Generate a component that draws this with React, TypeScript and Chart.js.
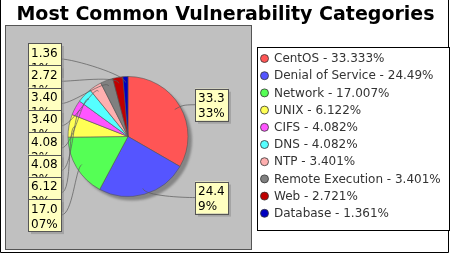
import React, { useEffect, useRef } from "react";
import { Chart, registerables } from "chart.js";

Chart.register(...registerables);

const titleText = "Most Common Vulnerability Categories";
const categories = [
  "CentOS",
  "Denial of Service",
  "Network",
  "UNIX",
  "CIFS",
  "DNS",
  "NTP",
  "Remote Execution",
  "Web",
  "Database",
];
const sharePercent = [33.333, 24.49, 17.007, 6.122, 4.082, 4.082, 3.401, 3.401, 2.721, 1.361];
const sliceColors = [
  "#FF5555",
  "#5555FF",
  "#55FF55",
  "#FFFF55",
  "#FF55FF",
  "#55FFFF",
  "#FFAFAF",
  "#808080",
  "#C00000",
  "#0000C0",
];

const FONT = '"DejaVu Sans", "Liberation Sans", sans-serif';

const decor = {
  id: "decor",
  beforeDraw(chart: any) {
    const ctx = chart.ctx;
    ctx.save();
    ctx.fillStyle = "#ffffff";
    ctx.fillRect(0, 0, chart.width, chart.height);
    // plot background
    ctx.fillStyle = "#c0c0c0";
    ctx.fillRect(5.5, 25.5, 246, 224);
    ctx.strokeStyle = "#555555";
    ctx.lineWidth = 1;
    ctx.strokeRect(5.5, 25.5, 246, 224);
    // outer frame lines
    ctx.strokeStyle = "#000000";
    ctx.beginPath();
    ctx.moveTo(0.5, 0);
    ctx.lineTo(0.5, 252.5);
    ctx.lineTo(448.5, 252.5);
    ctx.lineTo(448.5, 0);
    ctx.stroke();
    ctx.restore();
  },
  beforeDatasetsDraw(chart: any) {
    const ctx = chart.ctx;
    const a = chart.getDatasetMeta(0).data[0];
    if (!a) return;
    ctx.save();
    ctx.fillStyle = "#858585";
    ctx.filter = "blur(1px)";
    ctx.beginPath();
    ctx.arc(a.x + 4, a.y + 4, a.outerRadius, 0, Math.PI * 2);
    ctx.fill();
    ctx.restore();
  },
  afterDatasetsDraw(chart: any) {
    const ctx = chart.ctx;
    const meta = chart.getDatasetMeta(0);
    const values: number[] = chart.data.datasets[0].data;
    const n = values.length;
    const boxW = 33;
    const boxH = 32;
    type L = { left: number; top: number; tx: number; ty: number; ax: number; ay: number; dx: number; dy: number; text: string; right: boolean };
    const labels: L[] = [];
    for (let i = 0; i < n; i++) {
      const arc = meta.data[i];
      const mid = (arc.startAngle + arc.endAngle) / 2;
      const R = arc.outerRadius;
      const dx = Math.cos(mid);
      const dy = Math.sin(mid);
      const ax = arc.x + dx * R * 0.9;
      const ay = arc.y + dy * R * 0.9;
      const text = values[i] + "%";
      if (dx > 0) {
        const cy = arc.y + dy * (R + 3.5);
        const left = 195;
        labels.push({ left, top: cy - boxH / 2, tx: left, ty: cy, ax, ay, dx, dy, text, right: true });
      } else {
        const k = n - 1 - i;
        const top = 43 + k * 22.3;
        const right = 61;
        labels.push({ left: right - boxW, top, tx: right, ty: top + boxH / 2, ax, ay, dx, dy, text, right: false });
      }
    }
    ctx.save();
    // links
    ctx.strokeStyle = "#5a5a5a";
    ctx.lineWidth = 0.7;
    for (const l of labels) {
      ctx.beginPath();
      ctx.moveTo(l.ax, l.ay);
      const p1x = l.ax + l.dx * 8;
      const p1y = l.ay + l.dy * 8;
      const p2x = l.right ? l.tx - 12 : l.tx + 12;
      ctx.bezierCurveTo(p1x, p1y, p2x, l.ty, l.tx, l.ty);
      ctx.stroke();
    }
    // boxes: left ones top to bottom
    const ordered = labels
      .slice()
      .sort((p, q) => (p.right === q.right ? p.top - q.top : p.right ? 1 : -1));
    ctx.font = "12px " + FONT;
    ctx.textBaseline = "alphabetic";
    ctx.textAlign = "left";
    for (const l of ordered) {
      ctx.fillStyle = "rgba(140,140,140,0.55)";
      ctx.fillRect(l.left + 3, l.top + 3, boxW, boxH);
      ctx.fillStyle = "#FFFFC0";
      ctx.fillRect(l.left, l.top, boxW, boxH);
      ctx.strokeStyle = "#555555";
      ctx.lineWidth = 1;
      ctx.strokeRect(Math.round(l.left) + 0.5, Math.round(l.top) + 0.5, boxW, boxH);
      ctx.fillStyle = "#000000";
      const line1 = l.text.slice(0, 4);
      const line2 = l.text.slice(4);
      ctx.fillText(line1, l.left + 3, l.top + 13.5);
      ctx.fillText(line2, l.left + 3, l.top + 28.5);
    }
    ctx.restore();
  },
  afterDraw(chart: any) {
    const ctx = chart.ctx;
    ctx.save();
    // title
    ctx.fillStyle = "#000000";
    ctx.font = "bold 19px " + FONT;
    ctx.textAlign = "center";
    ctx.textBaseline = "alphabetic";
    ctx.fillText(titleText, 225.5, 19.5);
    // legend
    ctx.strokeStyle = "#000000";
    ctx.lineWidth = 1;
    ctx.fillStyle = "#ffffff";
    ctx.fillRect(257.5, 47.5, 192, 183);
    ctx.strokeRect(257.5, 47.5, 192, 183);
    const labelsArr: string[] = chart.data.labels;
    const values: number[] = chart.data.datasets[0].data;
    const colors: string[] = chart.data.datasets[0].backgroundColor;
    ctx.font = "12px " + FONT;
    ctx.textAlign = "left";
    ctx.textBaseline = "middle";
    for (let i = 0; i < labelsArr.length; i++) {
      const y = 58.5 + i * 17.2;
      ctx.beginPath();
      ctx.arc(264.5, y, 4, 0, Math.PI * 2);
      ctx.fillStyle = colors[i];
      ctx.fill();
      ctx.strokeStyle = "#333333";
      ctx.lineWidth = 0.8;
      ctx.stroke();
      ctx.fillStyle = "#333333";
      ctx.fillText(labelsArr[i] + " - " + values[i] + "%", 274, y + 0.5);
    }
    ctx.restore();
  },
};

export default function App() {
  const ref = useRef<HTMLCanvasElement>(null);
  useEffect(() => {
    if (!ref.current) return;
    const chart = new Chart(ref.current, {
      type: "pie",
      data: {
        labels: categories,
        datasets: [
          {
            data: sharePercent,
            backgroundColor: sliceColors,
            borderColor: "#555555",
            borderWidth: 0.6,
            radius: 60,
          } as any,
        ],
      },
      options: {
        responsive: false,
        animation: false,
        events: [],
        layout: { padding: { left: 5, top: 26, right: 199, bottom: 7 } },
        plugins: {
          legend: { display: false },
          title: { display: false },
          tooltip: { enabled: false },
        },
      },
      plugins: [decor],
    });
    return () => chart.destroy();
  }, []);
  return (
    <div style={{ position: "absolute", left: 0, top: 0, width: 450, height: 254, background: "#fff" }}>
      <canvas ref={ref} width={450} height={254} style={{ display: "block", width: 450, height: 254 }} />
    </div>
  );
}
